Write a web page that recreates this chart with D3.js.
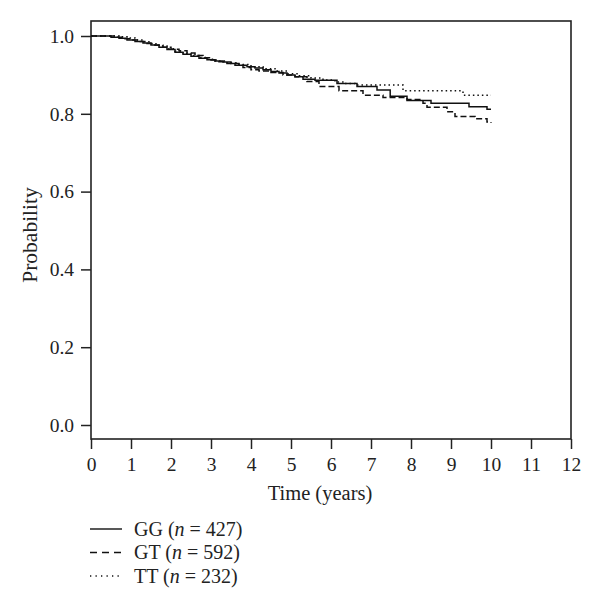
<!DOCTYPE html>
<html><head><meta charset="utf-8">
<script src="https://cdn.jsdelivr.net/npm/d3@7"></script>
<style>body{margin:0;background:#fff}svg{display:block}text{font-family:"Liberation Serif","DejaVu Serif",serif;fill:#222}</style>
</head><body>
<svg id="c" width="600" height="610"></svg>
<script>
const xTicks = [0,1,2,3,4,5,6,7,8,9,10,11,12];
const yTicks = [0,0.2,0.4,0.6,0.8,1.0];
const seriesNames = ["GG","GT","TT"];
const seriesN = [427,592,232];
const GG = [[0,1],[0.4,1],[0.5,0.997],[0.7,0.994],[0.9,0.99],[1.1,0.986],[1.3,0.982],[1.5,0.977],[1.7,0.971],[1.9,0.965],[2.1,0.958],[2.3,0.953],[2.5,0.948],[2.7,0.943],[2.9,0.939],[3.1,0.936],[3.3,0.933],[3.5,0.929],[3.7,0.925],[3.9,0.921],[4.1,0.918],[4.3,0.913],[4.5,0.909],[4.7,0.905],[4.9,0.9],[5.1,0.895],[5.3,0.889],[5.6,0.886],[6.15,0.878],[6.65,0.87],[7.15,0.861],[7.48,0.845],[7.9,0.834],[8.5,0.827],[9.45,0.818],[9.9,0.812],[10,0.812]];
const GT = [[0,1],[0.4,1],[0.6,0.997],[0.8,0.993],[1.0,0.99],[1.2,0.986],[1.4,0.981],[1.6,0.976],[1.8,0.971],[2.0,0.966],[2.2,0.962],[2.4,0.956],[2.6,0.95],[2.8,0.944],[3.0,0.938],[3.2,0.934],[3.4,0.929],[3.6,0.925],[3.8,0.919],[4.0,0.913],[4.2,0.91],[4.5,0.906],[4.8,0.9],[5.1,0.895],[5.4,0.883],[5.7,0.87],[6.2,0.859],[6.8,0.848],[7.3,0.842],[7.9,0.837],[8.3,0.827],[8.4,0.817],[8.9,0.805],[9.1,0.793],[9.6,0.787],[9.9,0.779],[10,0.777]];
const TT = [[0,1],[0.5,1],[0.7,0.998],[0.9,0.995],[1.1,0.99],[1.3,0.985],[1.5,0.98],[1.7,0.974],[1.9,0.967],[2.1,0.961],[2.3,0.955],[2.5,0.95],[2.7,0.945],[2.9,0.94],[3.1,0.936],[3.4,0.931],[3.7,0.927],[4.0,0.921],[4.3,0.916],[4.6,0.91],[4.9,0.903],[5.2,0.898],[5.5,0.892],[5.8,0.887],[6.1,0.882],[6.35,0.878],[6.6,0.874],[7.8,0.859],[9.3,0.848],[10,0.848]];
const seriesData = [GG,GT,TT];
const dashes = [null,"6,3","1.5,3"];

const svg = d3.select("#c");
const L=91,R=571,T=21,B=439;
const x = d3.scaleLinear().domain([0,12]).range([L,R]);
const y = d3.scaleLinear().domain([0,1]).range([425,36]);

// frame
svg.append("rect").attr("x",L).attr("y",T).attr("width",R-L).attr("height",B-T)
  .attr("fill","none").attr("stroke","#222").attr("stroke-width",1.6);

const xa = svg.append("g").attr("transform",`translate(0,${B})`)
  .call(d3.axisBottom(x).tickValues(xTicks).tickFormat(d3.format("d")).tickSize(10).tickSizeOuter(0));
xa.select(".domain").remove();
xa.selectAll("line").attr("stroke","#222").attr("stroke-width",1.5);
xa.selectAll("text").attr("font-size",19.5).attr("y",0).attr("dy","1.62em");

const ya = svg.append("g").attr("transform",`translate(${L},0)`)
  .call(d3.axisLeft(y).tickValues(yTicks).tickFormat(d3.format(".1f")).tickSize(10).tickSizeOuter(0));
ya.select(".domain").remove();
ya.selectAll("line").attr("stroke","#222").attr("stroke-width",1.5);
ya.selectAll("text").attr("font-size",19.5).attr("x",-17);

svg.append("text").attr("x",320).attr("y",500).attr("text-anchor","middle").attr("font-size",20.5).text("Time (years)");
svg.append("text").attr("transform",`translate(37,235) rotate(-90)`).attr("text-anchor","middle").attr("font-size",21.5).text("Probability");

const line = d3.line().x(d=>x(d[0])).y(d=>y(d[1])).curve(d3.curveStepAfter);
seriesData.forEach((s,i)=>{
  svg.append("path").datum(s).attr("d",line).attr("fill","none").attr("stroke","#111")
    .attr("stroke-width",1.5).attr("stroke-dasharray",dashes[i]);
});

// legend
seriesNames.forEach((nm,i)=>{
  const yy = 529 + i*23.5;
  svg.append("line").attr("x1",90).attr("x2",122).attr("y1",yy).attr("y2",yy)
    .attr("stroke","#111").attr("stroke-width",1.4).attr("stroke-dasharray",i==0?null:(i==1?"7,5":"1.3,4.2"));
  const t = svg.append("text").attr("x",134).attr("y",yy+6.5).attr("font-size",20);
  t.append("tspan").text(nm+" (");
  t.append("tspan").attr("font-style","italic").text("n");
  t.append("tspan").text(" = "+seriesN[i]+")");
});
</script>
</body></html>
